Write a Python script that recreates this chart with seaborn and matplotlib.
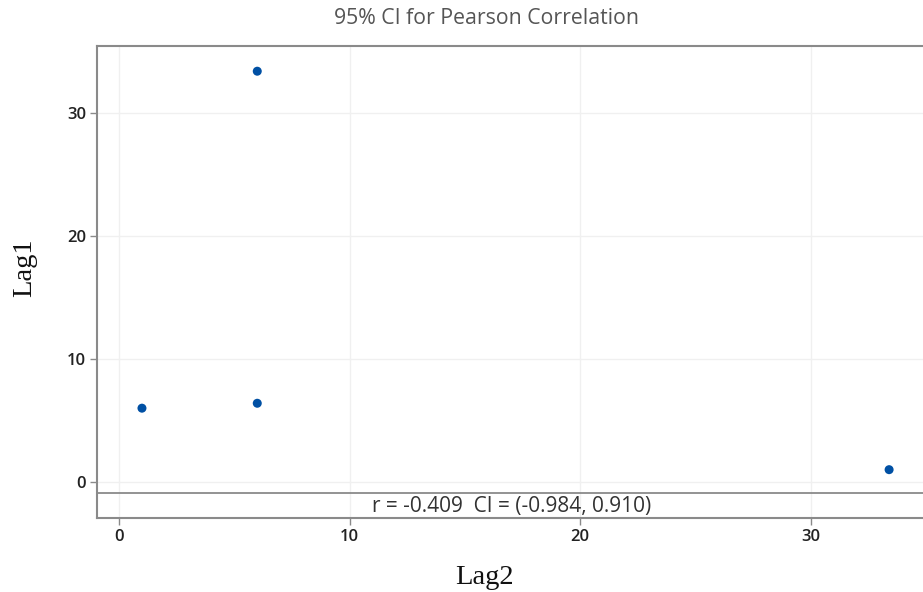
import matplotlib
matplotlib.use("Agg")
import matplotlib.pyplot as plt
import seaborn as sns
import pandas as pd

lag2 = [1.0, 6.0, 6.0, 33.4]
lag1 = [6.0, 33.4, 6.4, 1.0]
xticks = [0, 10, 20, 30]
yticks = [0, 10, 20, 30]
title = "95% CI for Pearson Correlation"
annot = "r = -0.409  CI = (-0.984, 0.910)"

df = pd.DataFrame({"Lag2": lag2, "Lag1": lag1})

sns.set_theme(style="white")
plt.rcParams["font.family"] = ["Open Sans", "DejaVu Sans"]

W, H = 923, 592
fig = plt.figure(figsize=(W / 100, H / 100), dpi=100)
left, right, top, bottom = 97, 926, 46, 518
ax = fig.add_axes([left / W, 1 - bottom / H, (right - left) / W, (bottom - top) / H])

sns.scatterplot(data=df, x="Lag2", y="Lag1", ax=ax, color="#0050a4",
                s=42, edgecolor="none", zorder=3)

ax.set_xlim(-0.95, 35.0)
ax.set_ylim(-2.93, 35.45)
ax.set_xticks(xticks)
ax.set_yticks(yticks)
ax.grid(True, color="#f0f0f0", linewidth=1.0, zorder=0)
ax.set_axisbelow(True)

for s in ["left", "bottom", "top"]:
    ax.spines[s].set_color("#8a8a8a")
    ax.spines[s].set_linewidth(1.5)
ax.spines["right"].set_visible(False)

ax.tick_params(axis="both", which="major", direction="out", length=5, width=1,
               color="#8a8a8a", labelsize=12, labelcolor="#222222", pad=3,
               bottom=True, left=True)
for lab in ax.get_xticklabels() + ax.get_yticklabels():
    lab.set_fontweight("semibold")

# annotation band
xmid = sum(ax.get_xlim()) / 2
ax.axhline(-0.89, color="#8a8a8a", linewidth=1.3, zorder=2)
ax.text(xmid, (-0.89 + -2.93) / 2 - 0.1, annot,
        ha="center", va="center", fontsize=15, color="#333333")

ax.set_xlabel("")
ax.set_ylabel("")
fig.text(486 / W, 1 - 18 / H, title, ha="center", va="center", fontsize=15.3, color="#555555")
fig.text(484 / W, 1 - 577 / H, "Lag2", ha="center", va="center", fontsize=20.5,
         family="Liberation Serif", color="#111111")
fig.text(25 / W, 1 - 268 / H, "Lag1", ha="center", va="center", fontsize=20.5,
         family="Liberation Serif", color="#111111", rotation=90)

fig.savefig("out.png", dpi=100)
